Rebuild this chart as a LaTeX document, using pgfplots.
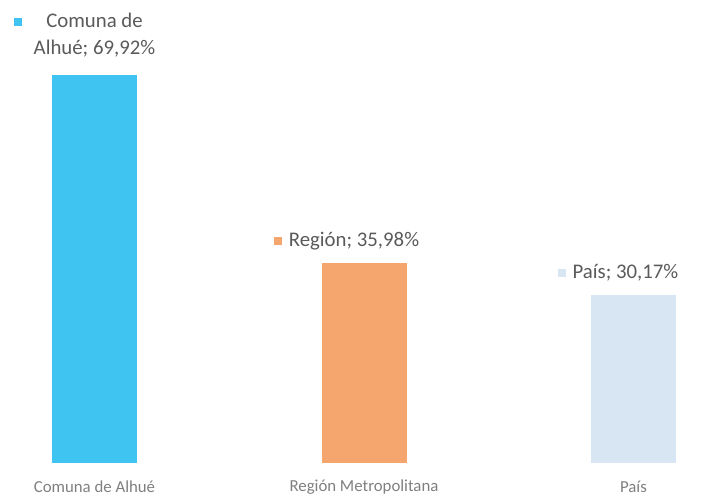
\documentclass[border=0pt]{standalone}
\usepackage{pgfplots}
\pgfplotsset{compat=1.18}
\usepackage{fontspec}
\setmainfont{Carlito}
\definecolor{cA}{HTML}{3FC3F0}
\definecolor{cB}{HTML}{F5A56E}
\definecolor{cC}{HTML}{D8E5F2}
\definecolor{txt}{HTML}{5A5A5A}
\definecolor{tick}{HTML}{7F7F7F}
\newcommand{\key}[1]{\textcolor{#1}{\raisebox{0.8pt}{\rule{4pt}{4pt}}}}
\begin{document}
\begin{tikzpicture}
\begin{axis}[
  at={(0,0)}, anchor=south west,
  scale only axis, width=354pt, height=251pt,
  xmin=-0.3506, xmax=2.2764, ymin=-7.03, ymax=83.4,
  axis line style={draw=none}, ytick=\empty,
  xtick={0,1,2}, xticklabels={Comuna de Alhué,Región Metropolitana,País},
  major tick length=0pt,
  xticklabel style={font=\fontsize{8.4}{10}\selectfont, text=tick, anchor=center, yshift=7.5pt},
  ybar, bar width=42.5pt, bar shift=0pt,
  clip=false,
  every node near coord/.append style={font=\fontsize{10.4}{13.5}\selectfont, text=txt, anchor=center, inner sep=0pt},
]
\addplot[fill=cA, draw=none, nodes near coords={\llap{\key{cA}\hspace{12pt}}Comuna de\\Alhué; 69,92\%},
  every node near coord/.append style={align=center, yshift=19.75pt}] coordinates {(0,69.92)};
\addplot[fill=cB, draw=none, nodes near coords={\llap{\key{cB}\hspace{3.5pt}}Región; 35,98\%},
  every node near coord/.append style={yshift=11pt, xshift=-5pt}] coordinates {(1,35.98)};
\addplot[fill=cC, draw=none, nodes near coords={\llap{\key{cC}\hspace{3.5pt}}País; 30,17\%},
  every node near coord/.append style={yshift=11.3pt, xshift=-4pt}] coordinates {(2,30.17)};
\end{axis}
\pgfresetboundingbox
\useasboundingbox (0,0) rectangle (354pt,251pt);
\end{tikzpicture}
\end{document}
